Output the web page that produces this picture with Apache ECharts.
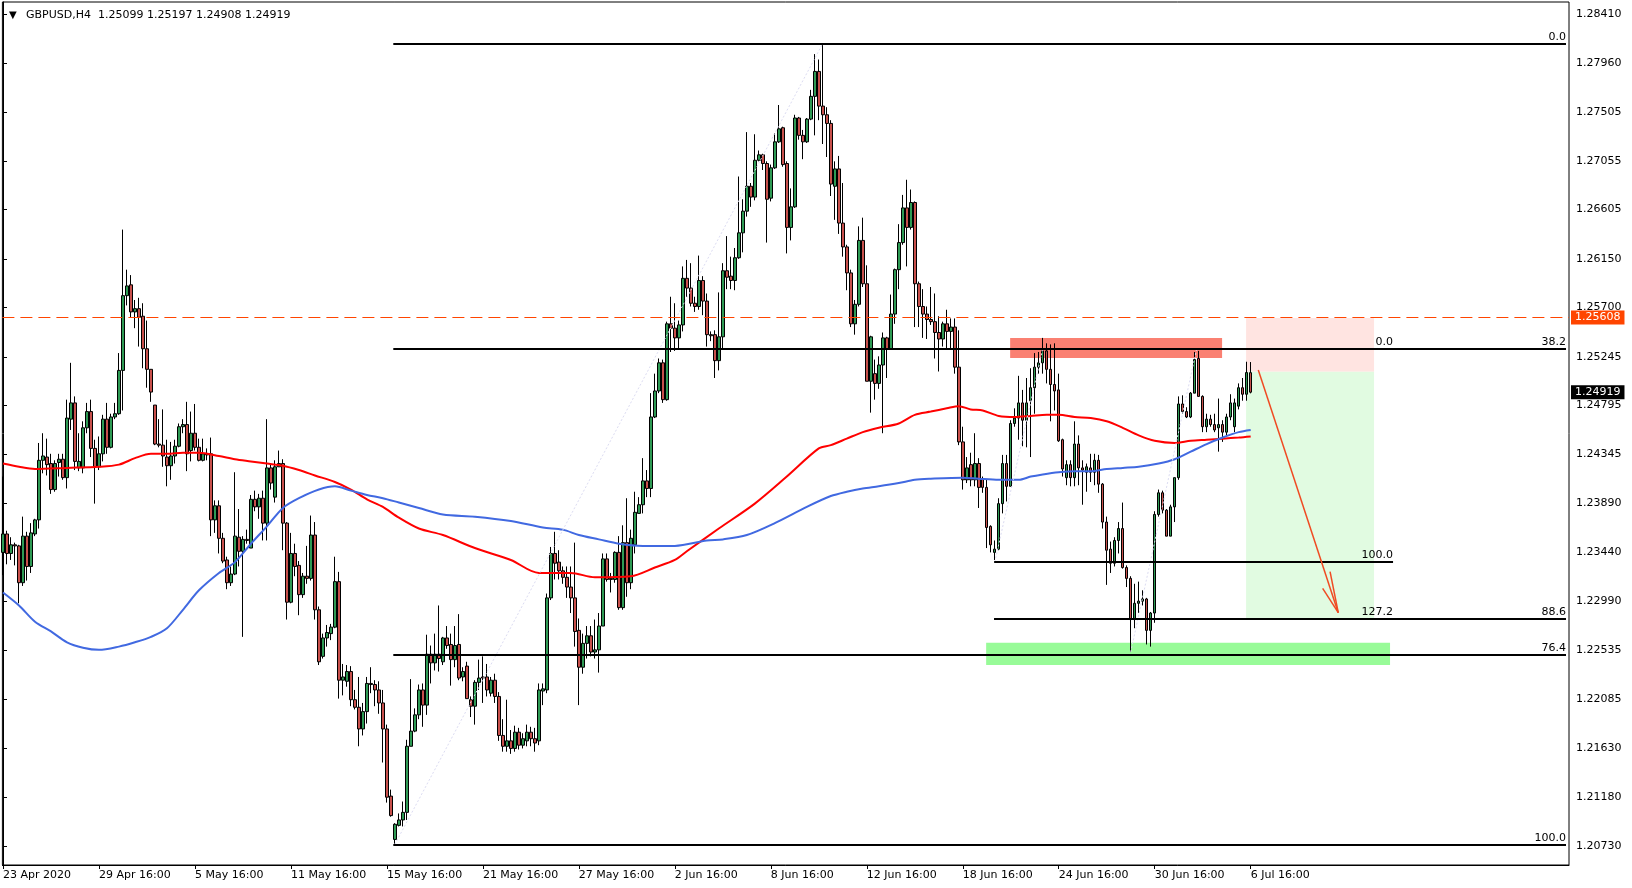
<!DOCTYPE html>
<html><head><meta charset="utf-8">
<script src="https://cdn.jsdelivr.net/npm/echarts@6/dist/echarts.min.js"></script>
<style>html,body{margin:0;padding:0;background:#fff;}#c{width:1632px;height:888px;}</style>
</head><body><div id="c"></div>
<script>
// ---------- data ----------
const chartTitle = 'GBPUSD,H4  1.25099 1.25197 1.24908 1.24919';
const xTickBars = [0,24,48,72,96,120,144,168,192,216,240,264,288,312];
const xTickLabels = ['23 Apr 2020','29 Apr 16:00','5 May 16:00','11 May 16:00','15 May 16:00','21 May 16:00','27 May 16:00','2 Jun 16:00','8 Jun 16:00','12 Jun 16:00','18 Jun 16:00','24 Jun 16:00','30 Jun 16:00','6 Jul 16:00'];
const yTickValues = [1.28410,1.27960,1.27505,1.27055,1.26605,1.26150,1.25700,1.25245,1.24795,1.24345,1.23890,1.23440,1.22990,1.22535,1.22085,1.21630,1.21180,1.20730];
// one row per H4 bar: [open, high, low, close]
const candles = [
[1.2344,1.2414,1.2323,1.2361],[1.2361,1.2364,1.2333,1.2343],[1.2343,1.2358,1.2337,1.2351],[1.2351,1.2353,1.2332,1.2350],[1.2350,1.2351,1.2297,1.2316],[1.2316,1.2377,1.2313,1.2359],
[1.2359,1.2363,1.2318,1.2331],[1.2331,1.2371,1.2325,1.2362],[1.2361,1.2375,1.2359,1.2374],[1.2374,1.2445,1.2366,1.2429],[1.2429,1.2454,1.2417,1.2433],[1.2432,1.2449,1.2415,1.2425],
[1.2426,1.2435,1.2398,1.2402],[1.2402,1.2429,1.2400,1.2426],[1.2427,1.2435,1.2414,1.2430],[1.2430,1.2435,1.2411,1.2413],[1.2413,1.2485,1.2403,1.2468],[1.2467,1.2519,1.2457,1.2482],
[1.2482,1.2488,1.2420,1.2428],[1.2422,1.2454,1.2419,1.2428],[1.2422,1.2465,1.2417,1.2459],[1.2459,1.2482,1.2454,1.2474],[1.2474,1.2485,1.2432,1.2440],[1.2440,1.2448,1.2389,1.2423],
[1.2423,1.2451,1.2420,1.2435],[1.2435,1.2471,1.2428,1.2467],[1.2467,1.2482,1.2435,1.2441],[1.2441,1.2472,1.2440,1.2469],[1.2469,1.2482,1.2467,1.2472],[1.2472,1.2528,1.2471,1.2512],
[1.2512,1.2642,1.2475,1.2581],[1.2581,1.2605,1.2572,1.2590],[1.2591,1.2600,1.2561,1.2566],[1.2566,1.2577,1.2551,1.2569],[1.2569,1.2579,1.2534,1.2561],[1.2562,1.2574,1.2514,1.2532],
[1.2532,1.2558,1.2496,1.2513],[1.2513,1.2513,1.2483,1.2492],[1.2480,1.2480,1.2443,1.2444],[1.2444,1.2467,1.2441,1.2443],[1.2443,1.2476,1.2423,1.2433],[1.2432,1.2448,1.2405,1.2424],
[1.2424,1.2446,1.2411,1.2433],[1.2433,1.2448,1.2426,1.2442],[1.2442,1.2463,1.2441,1.2460],[1.2460,1.2467,1.2454,1.2462],[1.2462,1.2483,1.2419,1.2435],[1.2438,1.2474,1.2428,1.2454],
[1.2454,1.2481,1.2438,1.2441],[1.2441,1.2449,1.2428,1.2429],[1.2429,1.2449,1.2428,1.2435],[1.2435,1.2440,1.2429,1.2434],[1.2435,1.2450,1.2359,1.2374],[1.2374,1.2392,1.2362,1.2387],
[1.2387,1.2392,1.2343,1.2357],[1.2357,1.2362,1.2334,1.2336],[1.2337,1.2340,1.2310,1.2316],[1.2316,1.2331,1.2313,1.2324],[1.2324,1.2418,1.2323,1.2359],[1.2358,1.2384,1.2331,1.2345],
[1.2345,1.2359,1.2266,1.2356],[1.2356,1.2365,1.2352,1.2355],[1.2348,1.2397,1.2348,1.2393],[1.2393,1.2401,1.2382,1.2386],[1.2386,1.2398,1.2375,1.2394],[1.2394,1.2401,1.2355,1.2371],
[1.2371,1.2467,1.2355,1.2422],[1.2422,1.2426,1.2402,1.2408],[1.2395,1.2429,1.2390,1.2423],[1.2423,1.2438,1.2423,1.2426],[1.2426,1.2430,1.2346,1.2371],[1.2371,1.2372,1.2282,1.2298],
[1.2298,1.2362,1.2297,1.2343],[1.2343,1.2352,1.2322,1.2331],[1.2332,1.2336,1.2286,1.2305],[1.2305,1.2325,1.2302,1.2322],[1.2322,1.2350,1.2315,1.2320],[1.2320,1.2378,1.2318,1.2360],
[1.2360,1.2372,1.2282,1.2291],[1.2291,1.2294,1.2240,1.2243],[1.2248,1.2269,1.2246,1.2265],[1.2265,1.2277,1.2257,1.2270],[1.2269,1.2278,1.2263,1.2275],[1.2275,1.2340,1.2274,1.2317],
[1.2317,1.2326,1.2209,1.2226],[1.2226,1.2241,1.2212,1.2229],[1.2225,1.2240,1.2220,1.2234],[1.2234,1.2239,1.2202,1.2208],[1.2208,1.2217,1.2199,1.2201],[1.2201,1.2229,1.2165,1.2181],
[1.2181,1.2205,1.2175,1.2197],[1.2197,1.2229,1.2186,1.2223],[1.2223,1.2238,1.2214,1.2222],[1.2222,1.2226,1.2202,1.2217],[1.2217,1.2225,1.2195,1.2205],[1.2205,1.2217,1.2150,1.2181],
[1.2181,1.2185,1.2113,1.2118],[1.2119,1.2125,1.2100,1.2101],[1.2079,1.2094,1.2075,1.2093],[1.2092,1.2103,1.2091,1.2097],[1.2097,1.2114,1.2091,1.2104],[1.2104,1.2171,1.2097,1.2165],
[1.2165,1.2227,1.2165,1.2179],[1.2179,1.2200,1.2178,1.2194],[1.2194,1.2222,1.2190,1.2217],[1.2217,1.2223,1.2183,1.2203],[1.2203,1.2268,1.2194,1.2250],[1.2250,1.2258,1.2223,1.2242],
[1.2242,1.2269,1.2235,1.2250],[1.2250,1.2295,1.2234,1.2246],[1.2243,1.2266,1.2240,1.2265],[1.2265,1.2276,1.2255,1.2258],[1.2259,1.2269,1.2221,1.2245],[1.2245,1.2276,1.2238,1.2258],
[1.2259,1.2287,1.2226,1.2228],[1.2229,1.2238,1.2225,1.2234],[1.2239,1.2243,1.2209,1.2209],[1.2208,1.2211,1.2192,1.2202],[1.2202,1.2226,1.2185,1.2224],[1.2224,1.2245,1.2217,1.2228],
[1.2229,1.2248,1.2205,1.2228],[1.2229,1.2241,1.2211,1.2217],[1.2214,1.2229,1.2211,1.2226],[1.2226,1.2232,1.2205,1.2211],[1.2211,1.2215,1.2170,1.2175],[1.2175,1.2190,1.2160,1.2165],
[1.2165,1.2208,1.2160,1.2170],[1.2170,1.2180,1.2158,1.2163],[1.2163,1.2184,1.2160,1.2178],[1.2178,1.2182,1.2162,1.2166],[1.2166,1.2177,1.2163,1.2172],[1.2170,1.2185,1.2165,1.2178],
[1.2178,1.2183,1.2165,1.2172],[1.2172,1.2182,1.2160,1.2168],[1.2170,1.2223,1.2166,1.2217],[1.2216,1.2223,1.2203,1.2218],[1.2217,1.2306,1.2214,1.2302],[1.2302,1.2349,1.2300,1.2343],
[1.2343,1.2363,1.2319,1.2334],[1.2335,1.2346,1.2319,1.2327],[1.2327,1.2331,1.2315,1.2321],[1.2321,1.2331,1.2302,1.2312],[1.2312,1.2331,1.2288,1.2302],[1.2302,1.2353,1.2257,1.2271],
[1.2272,1.2283,1.2203,1.2238],[1.2238,1.2269,1.2232,1.2260],[1.2260,1.2276,1.2246,1.2267],[1.2267,1.2276,1.2248,1.2252],[1.2252,1.2282,1.2246,1.2254],[1.2254,1.2288,1.2233,1.2276],
[1.2276,1.2343,1.2276,1.2338],[1.2338,1.2343,1.2317,1.2319],[1.2319,1.2325,1.2307,1.2320],[1.2319,1.2345,1.2316,1.2344],[1.2344,1.2359,1.2291,1.2293],[1.2293,1.2369,1.2291,1.2353],
[1.2353,1.2394,1.2303,1.2316],[1.2316,1.2365,1.2310,1.2357],[1.2351,1.2400,1.2343,1.2381],[1.2380,1.2395,1.2380,1.2388],[1.2388,1.2431,1.2380,1.2410],[1.2410,1.2420,1.2395,1.2403],
[1.2403,1.2491,1.2395,1.2469],[1.2469,1.2509,1.2468,1.2493],[1.2493,1.2523,1.2491,1.2519],[1.2519,1.2522,1.2482,1.2485],[1.2485,1.2557,1.2484,1.2555],[1.2555,1.2580,1.2529,1.2551],
[1.2551,1.2574,1.2530,1.2542],[1.2542,1.2558,1.2532,1.2554],[1.2554,1.2608,1.2548,1.2597],[1.2597,1.2614,1.2580,1.2588],[1.2588,1.2611,1.2571,1.2574],[1.2574,1.2580,1.2566,1.2571],
[1.2571,1.2618,1.2568,1.2595],[1.2595,1.2599,1.2563,1.2576],[1.2576,1.2583,1.2534,1.2545],[1.2545,1.2548,1.2539,1.2544],[1.2545,1.2549,1.2505,1.2521],[1.2521,1.2584,1.2512,1.2543],
[1.2543,1.2611,1.2532,1.2604],[1.2604,1.2636,1.2587,1.2598],[1.2599,1.2617,1.2587,1.2595],[1.2595,1.2625,1.2586,1.2616],[1.2616,1.2691,1.2615,1.2639],[1.2639,1.2670,1.2621,1.2659],
[1.2659,1.2732,1.2654,1.2682],[1.2682,1.2685,1.2663,1.2672],[1.2672,1.2730,1.2669,1.2706],[1.2706,1.2715,1.2705,1.2711],[1.2711,1.2712,1.2697,1.2703],[1.2703,1.2705,1.2630,1.2670],
[1.2671,1.2702,1.2668,1.2699],[1.2699,1.2731,1.2698,1.2723],[1.2723,1.2757,1.2722,1.2735],[1.2736,1.2737,1.2700,1.2702],[1.2703,1.2705,1.2620,1.2644],[1.2644,1.2680,1.2632,1.2663],
[1.2663,1.2748,1.2662,1.2745],[1.2745,1.2746,1.2725,1.2729],[1.2729,1.2734,1.2707,1.2723],[1.2723,1.2745,1.2722,1.2744],[1.2744,1.2771,1.2743,1.2765],[1.2765,1.2804,1.2729,1.2788],
[1.2788,1.2799,1.2743,1.2756],[1.2756,1.2813,1.2721,1.2748],[1.2748,1.2755,1.2709,1.2740],[1.2740,1.2743,1.2673,1.2684],[1.2682,1.2705,1.2651,1.2698],[1.2698,1.2710,1.2638,1.2648],
[1.2648,1.2685,1.2617,1.2626],[1.2626,1.2628,1.2586,1.2602],[1.2602,1.2605,1.2552,1.2555],[1.2555,1.2577,1.2545,1.2573],[1.2573,1.2645,1.2571,1.2632],[1.2632,1.2653,1.2589,1.2592],
[1.2592,1.2609,1.2502,1.2502],[1.2502,1.2544,1.2473,1.2543],[1.2509,1.2522,1.2485,1.2500],[1.2500,1.2525,1.2495,1.2517],[1.2517,1.2547,1.2454,1.2542],[1.2542,1.2543,1.2505,1.2532],
[1.2532,1.2582,1.2531,1.2564],[1.2564,1.2606,1.2555,1.2605],[1.2605,1.2647,1.2587,1.2630],[1.2630,1.2674,1.2628,1.2662],[1.2662,1.2688,1.2608,1.2644],[1.2644,1.2679,1.2642,1.2667],
[1.2667,1.2668,1.2552,1.2592],[1.2592,1.2594,1.2552,1.2571],[1.2571,1.2587,1.2542,1.2564],[1.2564,1.2571,1.2541,1.2559],[1.2559,1.2589,1.2554,1.2557],[1.2557,1.2583,1.2523,1.2547],
[1.2547,1.2562,1.2511,1.2541],[1.2541,1.2557,1.2534,1.2555],[1.2555,1.2568,1.2532,1.2548],[1.2548,1.2560,1.2532,1.2552],[1.2552,1.2560,1.2509,1.2515],[1.2515,1.2549,1.2443,1.2446],
[1.2446,1.2460,1.2402,1.2411],[1.2411,1.2432,1.2408,1.2422],[1.2425,1.2436,1.2405,1.2411],[1.2411,1.2454,1.2405,1.2426],[1.2426,1.2431,1.2385,1.2404],[1.2412,1.2414,1.2399,1.2404],
[1.2404,1.2411,1.2348,1.2367],[1.2368,1.2369,1.2344,1.2351],[1.2344,1.2355,1.2337,1.2347],[1.2347,1.2394,1.2346,1.2389],[1.2389,1.2434,1.2380,1.2426],[1.2426,1.2434,1.2391,1.2405],
[1.2405,1.2466,1.2405,1.2463],[1.2463,1.2477,1.2460,1.2468],[1.2468,1.2507,1.2448,1.2482],[1.2482,1.2494,1.2442,1.2466],[1.2466,1.2505,1.2441,1.2482],[1.2484,1.2514,1.2432,1.2496],
[1.2496,1.2528,1.2472,1.2515],[1.2515,1.2529,1.2509,1.2519],[1.2519,1.2542,1.2509,1.2530],[1.2530,1.2537,1.2500,1.2513],[1.2513,1.2536,1.2465,1.2499],[1.2499,1.2537,1.2475,1.2493],
[1.2494,1.2509,1.2446,1.2447],[1.2448,1.2449,1.2414,1.2421],[1.2413,1.2429,1.2406,1.2425],[1.2425,1.2429,1.2405,1.2413],[1.2413,1.2465,1.2405,1.2444],[1.2444,1.2452,1.2406,1.2422],
[1.2422,1.2429,1.2388,1.2420],[1.2418,1.2426,1.2400,1.2423],[1.2422,1.2435,1.2409,1.2418],[1.2418,1.2435,1.2406,1.2429],[1.2429,1.2434,1.2399,1.2407],[1.2407,1.2408,1.2366,1.2372],
[1.2372,1.2377,1.2314,1.2346],[1.2347,1.2354,1.2325,1.2334],[1.2334,1.2358,1.2331,1.2355],[1.2355,1.2372,1.2343,1.2366],[1.2366,1.2390,1.2329,1.2330],[1.2330,1.2332,1.2312,1.2320],
[1.2320,1.2322,1.2252,1.2282],[1.2282,1.2315,1.2274,1.2297],[1.2297,1.2317,1.2288,1.2299],[1.2299,1.2309,1.2295,1.2301],[1.2301,1.2302,1.2259,1.2272],[1.2272,1.2289,1.2257,1.2288],
[1.2288,1.2382,1.2279,1.2379],[1.2379,1.2402,1.2377,1.2399],[1.2399,1.2401,1.2380,1.2383],[1.2383,1.2384,1.2359,1.2359],[1.2359,1.2388,1.2359,1.2386],[1.2386,1.2413,1.2372,1.2413],
[1.2413,1.2488,1.2411,1.2481],[1.2481,1.2489,1.2472,1.2474],[1.2474,1.2478,1.2468,1.2469],[1.2469,1.2492,1.2468,1.2491],[1.2491,1.2529,1.2491,1.2522],[1.2523,1.2530,1.2488,1.2488],
[1.2488,1.2489,1.2455,1.2460],[1.2460,1.2472,1.2455,1.2467],[1.2467,1.2471,1.2460,1.2462],[1.2462,1.2472,1.2455,1.2457],[1.2459,1.2486,1.2437,1.2462],[1.2462,1.2466,1.2446,1.2455],
[1.2455,1.2472,1.2452,1.2469],[1.2469,1.2490,1.2466,1.2482],[1.2460,1.2486,1.2455,1.2482],[1.2479,1.2500,1.2476,1.2496],[1.2496,1.2505,1.2484,1.2490],[1.2490,1.2520,1.2484,1.2510],
[1.25099,1.25197,1.24908,1.24919]
];
// moving averages: [bar, value]
const maRed = [[0,1.2426],[4,1.2423],[8,1.2421],[16,1.2422],[24,1.2423],[29,1.2425],[33,1.2431],[37,1.2435],[41,1.2435],[45,1.2436],[49,1.2436],[54,1.2433],[58,1.2430],[62,1.2428],[66,1.2426],[70,1.2424],[74,1.2420],[78,1.2415],[83,1.2409],[87,1.2402],[91,1.2393],[95,1.2386],[99,1.2376],[104,1.2366],[110,1.2360],[118,1.2348],[127,1.2337],[134,1.2325],[142,1.2325],[148,1.2321],[157,1.2322],[163,1.2330],[168,1.2337],[171,1.2345],[179,1.2366],[188,1.2389],[196,1.2414],[204,1.2440],[207,1.2443],[211,1.2449],[215,1.2455],[219,1.2459],[224,1.2463],[228,1.2471],[232,1.2474],[236,1.2477],[239,1.2479],[242,1.2476],[245,1.2475],[249,1.2470],[253,1.2469],[257,1.2470],[261,1.2471],[264,1.2471],[268,1.2469],[272,1.2468],[276,1.2465],[280,1.2459],[284,1.2452],[288,1.2447],[293,1.2445],[297,1.2447],[301,1.2448],[305,1.2449],[309,1.2450],[312,1.2451]];
const maBlue = [[0,1.2307],[4,1.2295],[8,1.2280],[12,1.2271],[16,1.2261],[20,1.2256],[24,1.2254],[29,1.2257],[33,1.2261],[37,1.2266],[41,1.2274],[45,1.2291],[49,1.2309],[54,1.2325],[58,1.2335],[62,1.2352],[66,1.2368],[70,1.2385],[74,1.2394],[79,1.2402],[83,1.2405],[87,1.2401],[91,1.2397],[95,1.2394],[99,1.2390],[104,1.2385],[110,1.2379],[118,1.2377],[127,1.2373],[135,1.2367],[140,1.2365],[144,1.2360],[149,1.2356],[154,1.2352],[160,1.2350],[168,1.2350],[176,1.2355],[180,1.2356],[186,1.2360],[193,1.2371],[201,1.2386],[207,1.2396],[211,1.2400],[215,1.2403],[219,1.2405],[224,1.2408],[228,1.2411],[232,1.2412],[240,1.2413],[244,1.2412],[249,1.2411],[254,1.2411],[257,1.2414],[260,1.2416],[264,1.2418],[268,1.2419],[272,1.2419],[276,1.2421],[280,1.2422],[284,1.2423],[289,1.2426],[293,1.2430],[297,1.2437],[301,1.2444],[305,1.2450],[309,1.2455],[312,1.2457]];
const resistancePrice = 1.25608;
const lastPrice = 1.24919;
// Fibonacci drawings: [label, price], spanning bars [from, to]
const fibMainSpan = [97.6, 390.85];
const fibMainLevels = [['0.0',1.28139],['38.2',1.25320],['76.4',1.22493],['100.0',1.20745]];
const fibExtraSpan = [247.85, 390.85];
const fibExtraLevels = [['88.6',1.22825]];
const fibSecondSpan = [247.85, 347.6];
const fibSecondLevels = [['0.0',1.25320],['100.0',1.23354],['127.2',1.22825]];
// zones: [barFrom, barTo, priceLow, priceHigh, colour]
const zones = [
  [251.85, 304.85, 1.25234, 1.25419, '#fa8072'],
  [310.85, 342.85, 1.25108, 1.25603, '#ffe4e1'],
  [310.85, 342.85, 1.22831, 1.25108, '#e1fbe1'],
  [245.85, 346.85, 1.22400, 1.22606, '#98fb98']
];
// dotted trend lines: [[bar, price],[bar, price]]
const trendLines = [
  [[98, 1.20745], [205, 1.28139]],
  [[248, 1.2335], [260, 1.2532]],
  [[282, 1.2252], [298.5, 1.2532]]
];
const arrowShaft = [[313.9, 1.25123], [333.9, 1.22883]];
const arrowWings = [[[330.0, 1.23108], [333.9, 1.22883]], [[331.85, 1.23262], [333.9, 1.22883]]];

// ---------- chart ----------
const FONT = 'DejaVu Sans';
const chart = echarts.init(document.getElementById('c'), null, {renderer: 'canvas'});
const ohlcData = candles.map((c, i) => [i, c[0], c[3], c[2], c[1]]);

function fibLines(span, levels) {
  return levels.map(([lab, v]) => [
    {coord: [span[0], v], label: {formatter: lab}},
    {coord: [span[1], v]}
  ]);
}
const fibData = [].concat(fibLines(fibMainSpan, fibMainLevels), fibLines(fibExtraSpan, fibExtraLevels), fibLines(fibSecondSpan, fibSecondLevels));

const option = {
  animation: false,
  backgroundColor: '#ffffff',
  title: {
    text: '{tri|▼}{txt|' + chartTitle + '}',
    left: 4, top: 5,
    textStyle: {fontWeight: 'normal', rich: {
      tri: {fontSize: 10, width: 17, fontFamily: FONT, color: '#000', fontWeight: 'normal'},
      txt: {fontSize: 11, fontFamily: FONT, color: '#000', fontWeight: 'normal'}
    }}
  },
  grid: {left: 2, right: 63, top: 2, bottom: 23, show: true, borderColor: '#000', borderWidth: 1, backgroundColor: '#fff'},
  xAxis: {
    type: 'value', min: -0.15, max: 391.6,
    splitLine: {show: false},
    axisLine: {lineStyle: {color: '#000', width: 1}},
    axisTick: {customValues: xTickBars, length: 4, lineStyle: {color: '#000'}},
    axisLabel: {
      customValues: xTickBars, align: 'left', margin: 5, color: '#000', fontSize: 11, fontFamily: FONT,
      formatter: v => xTickLabels[xTickBars.indexOf(Math.round(v))] || ''
    }
  },
  yAxis: {
    type: 'value', position: 'right', min: 1.20554, max: 1.28521,
    splitLine: {show: false},
    axisLine: {show: true, lineStyle: {color: '#000', width: 1}},
    axisTick: {customValues: yTickValues, length: 4, lineStyle: {color: '#000'}},
    axisLabel: {customValues: yTickValues, margin: 7, color: '#000', fontSize: 11, fontFamily: FONT, formatter: v => v.toFixed(5)}
  },
  series: [
    {
      type: 'line', data: [], z: 1, silent: true,
      markArea: {
        silent: true,
        data: zones.map(z => [
          {coord: [z[0], z[3]], itemStyle: {color: z[4]}},
          {coord: [z[1], z[2]]}
        ])
      }
    },
    {
      type: 'candlestick', z: 3, barWidth: 3,
      data: ohlcData,
      encode: {x: 0, y: [1, 2, 3, 4]},
      itemStyle: {color: '#2e9a54', color0: '#c8504c', borderColor: '#000', borderColor0: '#000', borderColorDoji: '#000', borderWidth: 1}
    },
    {type: 'line', data: maRed, z: 4, showSymbol: false, smooth: 0.3, lineStyle: {color: '#ff0000', width: 2}, silent: true},
    {type: 'line', data: maBlue, z: 4, showSymbol: false, smooth: 0.3, lineStyle: {color: '#4169e1', width: 2}, silent: true},
    {
      type: 'line', data: [], z: 2, silent: true,
      markLine: {
        silent: true, symbol: ['none', 'none'], precision: 5,
        lineStyle: {color: '#dcdcf2', width: 1, type: [2, 2]},
        label: {show: false},
        data: trendLines.map(t => [{coord: t[0]}, {coord: t[1]}])
      }
    },
    {
      type: 'line', data: [], z: 5, silent: true,
      markLine: {
        silent: true, symbol: ['none', 'none'], precision: 5,
        lineStyle: {color: '#000', width: 2, type: 'solid'},
        label: {show: true, position: 'insideEndTop', distance: [0, 1], color: '#000', fontSize: 11, fontFamily: FONT},
        data: fibData
      }
    },
    {
      type: 'line', data: [], z: 5, silent: true,
      markLine: {
        silent: true, symbol: ['none', 'none'], precision: 5,
        data: [
          {yAxis: resistancePrice, lineStyle: {color: '#ff4500', width: 1, type: [12, 6]},
           label: {show: true, position: 'end', distance: 2, formatter: resistancePrice.toFixed(5), color: '#fff', backgroundColor: '#ff4500', padding: [2, 4, 1, 4], fontSize: 11, fontFamily: FONT}},
          {yAxis: lastPrice, lineStyle: {color: 'rgba(0,0,0,0)', width: 0},
           label: {show: true, position: 'end', distance: 2, formatter: lastPrice.toFixed(5), color: '#fff', backgroundColor: '#000', padding: [2, 4, 1, 4], fontSize: 11, fontFamily: FONT}}
        ]
      }
    },
    {
      type: 'line', data: [], z: 6, silent: true,
      markLine: {
        silent: true, symbol: ['none', 'none'], precision: 5,
        lineStyle: {color: '#f04a22', width: 1.5, type: 'solid'},
        label: {show: false},
        data: [[{coord: arrowShaft[0]}, {coord: arrowShaft[1]}]].concat(arrowWings.map(w => [{coord: w[0]}, {coord: w[1]}]))
      }
    }
  ]
};
chart.setOption(option);
</script>
</body></html>
